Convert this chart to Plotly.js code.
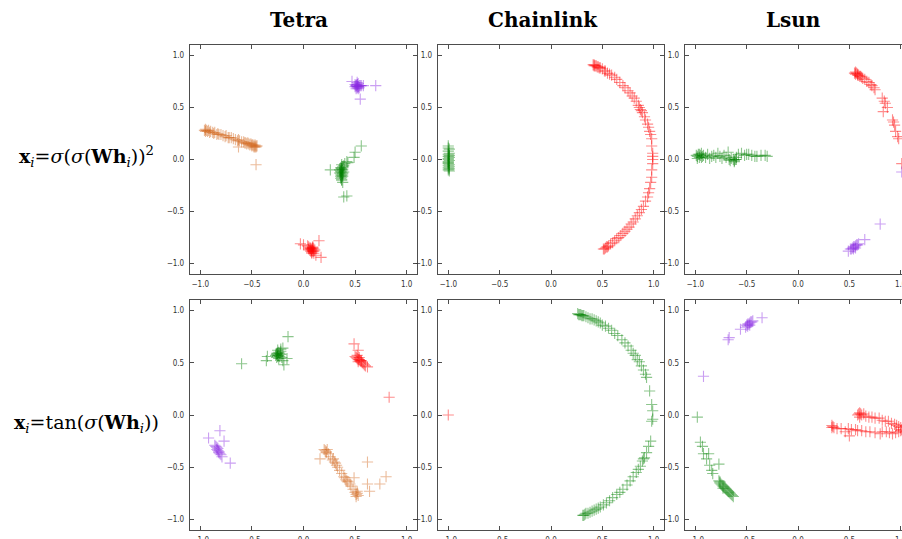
<!DOCTYPE html>
<html>
<head>
<meta charset="utf-8">
<script src="https://cdn.plot.ly/plotly-3.0.1.min.js"></script>
<style>
html,body{margin:0;padding:0;overflow:hidden;background:#fff;width:902px;height:539px;}
#chart{width:912px;height:539px;}
</style>
</head>
<body>
<div id="chart"></div>
<script>
// ---------- column / row labels ----------
const columnTitles = ["Tetra", "Chainlink", "Lsun"];
const rowLabels = [
  "<b>x</b><sub><i>i</i></sub>=<i>σ</i>(<i>σ</i>(<b>Wh</b><sub><i>i</i></sub>))<sup>2</sup>",
  "<b>x</b><sub><i>i</i></sub>=tan(<i>σ</i>(<b>Wh</b><sub><i>i</i></sub>))"
];
const tickValues = [-1.0, -0.5, 0.0, 0.5, 1.0];

// ---------- Panel 1: Tetra, sigma(sigma(Wh))^2 ----------
const p1OrangeX = [-0.96,-0.95,-0.95,-0.94,-0.93,-0.92,-0.91,-0.90,-0.88,-0.87,-0.86,-0.84,-0.83,-0.82,-0.80,-0.78,-0.76,-0.75,-0.73,-0.72,-0.70,-0.68,-0.66,-0.64,-0.63,-0.62,-0.60,-0.58,-0.57,-0.56,-0.55,-0.54,-0.53,-0.52,-0.51,-0.50,-0.50,-0.49,-0.48,-0.48,-0.47,-0.47,-0.46,-0.46,-0.45,-0.46,-0.63];
const p1OrangeY = [0.28,0.29,0.27,0.28,0.27,0.28,0.26,0.27,0.26,0.25,0.26,0.24,0.25,0.24,0.24,0.23,0.22,0.23,0.21,0.21,0.21,0.20,0.19,0.18,0.19,0.18,0.17,0.17,0.16,0.16,0.15,0.16,0.15,0.14,0.15,0.14,0.13,0.14,0.13,0.12,0.14,0.12,0.13,0.12,0.13,-0.05,0.12];
const p1PurpleX = [0.50,0.51,0.52,0.53,0.54,0.52,0.51,0.53,0.50,0.52,0.54,0.53,0.51,0.52,0.55,0.56,0.58,0.47,0.70,0.55,0.52,0.53];
const p1PurpleY = [0.70,0.71,0.72,0.70,0.71,0.69,0.68,0.73,0.72,0.70,0.69,0.68,0.71,0.74,0.71,0.71,0.71,0.75,0.71,0.58,0.72,0.70];
const p1GreenX = [0.40,0.39,0.38,0.37,0.37,0.36,0.36,0.35,0.36,0.37,0.38,0.37,0.36,0.37,0.38,0.37,0.38,0.39,0.36,0.37,0.38,0.35,0.36,0.37,0.26,0.42,0.43,0.49,0.50,0.56,0.39,0.42,0.38,0.37];
const p1GreenY = [-0.04,-0.06,-0.07,-0.09,-0.10,-0.11,-0.12,-0.13,-0.14,-0.15,-0.16,-0.17,-0.18,-0.19,-0.13,-0.08,-0.10,-0.12,-0.16,-0.05,-0.14,-0.10,-0.08,-0.12,-0.10,-0.02,-0.03,0.02,0.07,0.13,-0.36,-0.35,-0.22,-0.20];
const p1RedX = [0.05,0.06,0.07,0.08,0.09,0.10,0.06,0.07,0.08,0.09,0.10,0.07,0.08,0.09,0.11,0.05,0.04,0.08,0.10,-0.03,0.00,0.15,0.12,0.17,0.09];
const p1RedY = [-0.84,-0.85,-0.86,-0.87,-0.85,-0.86,-0.87,-0.88,-0.89,-0.84,-0.88,-0.85,-0.86,-0.88,-0.87,-0.86,-0.83,-0.90,-0.90,-0.81,-0.82,-0.78,-0.92,-0.94,-0.85];

// ---------- Panel 2: Chainlink, sigma(sigma(Wh))^2 ----------
const p2GreenX = [-1.00,-0.99,-1.00,-0.99,-1.00,-1.00,-0.99,-1.00,-0.99,-1.00,-1.00,-0.99,-1.00,-0.99,-1.00,-1.00,-0.99,-1.00,-0.99,-1.00,-1.00,-0.99];
const p2GreenY = [0.13,0.10,0.08,0.06,0.05,0.03,0.02,0.00,-0.01,-0.02,-0.03,-0.05,-0.06,-0.07,-0.08,-0.10,-0.11,0.11,0.04,-0.04,0.01,-0.09];
const p2RedX = [0.41,0.42,0.42,0.43,0.44,0.45,0.46,0.47,0.48,0.50,0.52,0.53,0.55,0.57,0.59,0.62,0.64,0.67,0.70,0.72,0.75,0.77,0.79,0.81,0.83,0.85,0.86,0.87,0.88,0.89,0.91,0.92,0.94,0.95,0.96,0.97,0.98,0.98,0.99,0.99,0.99,0.99,0.98,0.98,0.97,0.96,0.95,0.94,0.92,0.90,0.88,0.86,0.84,0.82,0.80,0.78,0.76,0.74,0.72,0.70,0.68,0.66,0.64,0.62,0.60,0.58,0.56,0.55,0.54,0.53,0.52,0.51];
const p2RedY = [0.91,0.91,0.90,0.90,0.90,0.89,0.89,0.88,0.88,0.87,0.85,0.85,0.83,0.82,0.81,0.79,0.77,0.74,0.71,0.69,0.66,0.64,0.61,0.59,0.56,0.52,0.50,0.48,0.47,0.45,0.41,0.38,0.34,0.31,0.27,0.24,0.20,0.13,0.06,0.03,0.00,-0.04,-0.10,-0.17,-0.22,-0.28,-0.32,-0.36,-0.40,-0.45,-0.48,-0.51,-0.54,-0.57,-0.60,-0.62,-0.65,-0.67,-0.69,-0.71,-0.73,-0.75,-0.76,-0.78,-0.80,-0.81,-0.83,-0.84,-0.84,-0.85,-0.86,-0.86];

// ---------- Panel 3: Lsun, sigma(sigma(Wh))^2 ----------
const p3GreenX = [-0.99,-0.98,-0.97,-0.96,-0.95,-0.94,-0.93,-0.92,-0.90,-0.88,-0.86,-0.84,-0.82,-0.80,-0.78,-0.76,-0.74,-0.72,-0.70,-0.68,-0.67,-0.65,-0.63,-0.62,-0.61,-0.60,-0.60,-0.58,-0.55,-0.52,-0.50,-0.48,-0.45,-0.42,-0.40,-0.36,-0.32,-0.30,-0.98,-0.96,-0.94,-0.66,-0.62];
const p3GreenY = [0.04,0.03,0.05,0.02,0.04,0.06,0.03,0.04,0.02,0.05,0.01,0.03,0.04,0.02,0.06,0.03,0.01,0.04,0.02,0.07,0.00,0.01,0.00,-0.01,0.00,0.02,0.00,0.05,0.06,0.04,0.05,0.05,0.04,0.03,0.03,0.04,0.04,0.03,0.01,0.05,0.02,-0.01,-0.02];
const p3RedX = [0.55,0.56,0.56,0.57,0.58,0.58,0.59,0.60,0.61,0.62,0.63,0.65,0.67,0.69,0.71,0.72,0.74,0.75,0.82,0.84,0.85,0.83,0.87,0.92,0.93,0.94,0.95,0.97,0.98,1.01];
const p3RedY = [0.83,0.84,0.82,0.83,0.82,0.81,0.81,0.80,0.80,0.79,0.78,0.77,0.75,0.74,0.72,0.71,0.69,0.67,0.59,0.56,0.54,0.46,0.50,0.38,0.36,0.33,0.27,0.22,0.20,-0.04];
const p3PurpleX = [0.49,0.51,0.52,0.53,0.54,0.55,0.56,0.57,0.58,0.59,0.54,0.56,0.65,0.80,1.01];
const p3PurpleY = [-0.88,-0.86,-0.86,-0.85,-0.84,-0.84,-0.83,-0.82,-0.82,-0.81,-0.86,-0.85,-0.77,-0.62,-0.12];

// ---------- Panel 4: Tetra, tan(sigma(Wh)) ----------
const p4GreenX = [-0.27,-0.26,-0.25,-0.24,-0.23,-0.22,-0.26,-0.25,-0.24,-0.23,-0.25,-0.24,-0.26,-0.22,-0.21,-0.15,-0.60,-0.35,-0.36,-0.20,-0.19,-0.20,-0.22,-0.16,-0.25];
const p4GreenY = [0.57,0.58,0.59,0.57,0.56,0.58,0.55,0.56,0.60,0.59,0.57,0.54,0.59,0.61,0.55,0.75,0.49,0.56,0.52,0.52,0.48,0.64,0.63,0.54,0.62];
const p4RedX = [0.50,0.51,0.52,0.53,0.54,0.55,0.56,0.57,0.58,0.59,0.52,0.54,0.56,0.53,0.49,0.53,0.62,0.83,0.60];
const p4RedY = [0.56,0.55,0.54,0.53,0.53,0.52,0.51,0.50,0.49,0.48,0.57,0.55,0.52,0.51,0.68,0.62,0.46,0.17,0.47];
const p4PurpleX = [-0.85,-0.84,-0.84,-0.83,-0.83,-0.82,-0.82,-0.81,-0.80,-0.86,-0.92,-0.81,-0.77,-0.71,-0.79];
const p4PurpleY = [-0.30,-0.31,-0.33,-0.32,-0.34,-0.35,-0.36,-0.37,-0.38,-0.29,-0.22,-0.15,-0.25,-0.46,-0.40];
const p4OrangeX = [0.20,0.21,0.22,0.23,0.24,0.26,0.28,0.29,0.30,0.31,0.32,0.33,0.35,0.37,0.39,0.40,0.41,0.42,0.43,0.45,0.46,0.48,0.50,0.51,0.52,0.53,0.51,0.52,0.16,0.62,0.62,0.64,0.74,0.80,0.49,0.22];
const p4OrangeY = [-0.33,-0.34,-0.35,-0.33,-0.37,-0.40,-0.43,-0.42,-0.45,-0.46,-0.48,-0.50,-0.53,-0.56,-0.59,-0.60,-0.62,-0.63,-0.64,-0.66,-0.68,-0.71,-0.74,-0.76,-0.75,-0.77,-0.78,-0.73,-0.42,-0.45,-0.66,-0.73,-0.66,-0.59,-0.60,-0.36];

// ---------- Panel 5: Chainlink, tan(sigma(Wh)) ----------
const p5RedX = [-1.0];
const p5RedY = [0.0];
const p5GreenX = [0.26,0.27,0.28,0.29,0.30,0.31,0.32,0.34,0.36,0.38,0.40,0.42,0.44,0.46,0.48,0.50,0.53,0.56,0.59,0.62,0.65,0.69,0.72,0.75,0.78,0.80,0.82,0.84,0.86,0.88,0.90,0.92,0.93,0.96,0.98,0.99,0.99,0.98,0.97,0.95,0.93,0.91,0.90,0.89,0.87,0.85,0.83,0.80,0.77,0.74,0.70,0.67,0.64,0.60,0.57,0.54,0.51,0.48,0.46,0.44,0.42,0.40,0.38,0.36,0.34,0.33,0.32,0.31];
const p5GreenY = [0.97,0.96,0.96,0.96,0.95,0.95,0.95,0.94,0.93,0.92,0.92,0.91,0.90,0.89,0.88,0.86,0.85,0.83,0.81,0.78,0.76,0.72,0.69,0.66,0.62,0.59,0.57,0.53,0.51,0.47,0.43,0.39,0.36,0.23,0.10,0.04,-0.04,-0.06,-0.25,-0.30,-0.36,-0.41,-0.42,-0.44,-0.49,-0.52,-0.55,-0.59,-0.63,-0.67,-0.71,-0.74,-0.76,-0.79,-0.82,-0.84,-0.86,-0.88,-0.89,-0.90,-0.91,-0.92,-0.93,-0.94,-0.94,-0.95,-0.96,-0.96];

// ---------- Panel 6: Lsun, tan(sigma(Wh)) ----------
const p6PurpleX = [-0.50,-0.49,-0.48,-0.47,-0.46,-0.45,-0.44,-0.49,-0.47,-0.35,-0.56,-0.67,-0.68,-0.92,-0.51];
const p6PurpleY = [0.86,0.87,0.87,0.88,0.89,0.89,0.90,0.85,0.86,0.93,0.82,0.74,0.72,0.37,0.84];
const p6GreenX = [-0.98,-0.95,-0.93,-0.92,-0.89,-0.87,-0.86,-0.84,-0.83,-0.77,-0.77,-0.76,-0.75,-0.74,-0.73,-0.72,-0.71,-0.70,-0.69,-0.68,-0.67,-0.66,-0.65,-0.64,-0.63,-0.76,-0.73];
const p6GreenY = [-0.02,-0.26,-0.30,-0.37,-0.42,-0.37,-0.48,-0.53,-0.56,-0.47,-0.63,-0.64,-0.66,-0.67,-0.68,-0.69,-0.70,-0.71,-0.72,-0.73,-0.74,-0.75,-0.76,-0.77,-0.78,-0.65,-0.70];
const p6RedX = [0.58,0.59,0.60,0.61,0.62,0.64,0.66,0.69,0.72,0.75,0.79,0.82,0.85,0.88,0.91,0.94,0.96,0.98,1.00,1.01,1.00,0.98,0.95,0.92,0.89,0.86,0.82,0.80,0.75,0.70,0.66,0.62,0.58,0.56,0.52,0.49,0.46,0.42,0.38,0.35,0.34,0.33,0.33,0.50,0.60];
const p6RedY = [0.00,0.01,0.02,0.01,0.00,0.01,-0.01,-0.02,-0.02,-0.03,-0.03,-0.05,-0.06,-0.06,-0.08,-0.09,-0.10,-0.11,-0.12,-0.14,-0.15,-0.16,-0.17,-0.18,-0.17,-0.16,-0.16,-0.18,-0.17,-0.16,-0.16,-0.15,-0.15,-0.14,-0.14,-0.13,-0.16,-0.13,-0.13,-0.12,-0.11,-0.12,-0.10,-0.20,-0.02];

// ---------- styling ----------
const COLORS = {
  red: "rgba(255,0,0,0.45)",
  green: "rgba(0,128,0,0.45)",
  purple: "rgba(138,43,226,0.45)",
  orange: "rgba(210,105,30,0.45)"
};
const W = 912, H = 539;
const colPx = [[190, 417], [438, 664], [685, 911]];
const rowPx = [[45, 274], [300, 530]];

const traces = [];
function add(panel, xs, ys, color) {
  const s = panel === 1 ? "" : String(panel);
  traces.push({
    type: "scatter", mode: "markers", x: xs, y: ys,
    xaxis: "x" + s, yaxis: "y" + s, showlegend: false, hoverinfo: "skip",
    marker: { symbol: "cross-thin-open", size: 8, color: COLORS[color],
              line: { width: 1.1, color: COLORS[color] } }
  });
}
add(1, p1OrangeX, p1OrangeY, "orange");
add(1, p1PurpleX, p1PurpleY, "purple");
add(1, p1GreenX, p1GreenY, "green");
add(1, p1RedX, p1RedY, "red");
add(2, p2GreenX, p2GreenY, "green");
add(2, p2RedX, p2RedY, "red");
add(3, p3GreenX, p3GreenY, "green");
add(3, p3RedX, p3RedY, "red");
add(3, p3PurpleX, p3PurpleY, "purple");
add(4, p4GreenX, p4GreenY, "green");
add(4, p4RedX, p4RedY, "red");
add(4, p4PurpleX, p4PurpleY, "purple");
add(4, p4OrangeX, p4OrangeY, "orange");
add(5, p5RedX, p5RedY, "red");
add(5, p5GreenX, p5GreenY, "green");
add(6, p6PurpleX, p6PurpleY, "purple");
add(6, p6GreenX, p6GreenY, "green");
add(6, p6RedX, p6RedY, "red");

const layout = {
  width: W, height: H, autosize: false,
  margin: { l: 0, r: 0, t: 0, b: 0 },
  paper_bgcolor: "#ffffff", plot_bgcolor: "#ffffff",
  showlegend: false,
  annotations: []
};
const axisBase = {
  range: [-1.1, 1.1], showgrid: false, zeroline: false,
  showline: true, mirror: "ticks", linecolor: "#4d4d4d", linewidth: 1.2,
  ticks: "inside", ticklen: 4, tickwidth: 1, tickcolor: "#4d4d4d",
  tickvals: tickValues, tickformat: ".1f",
  tickfont: { family: "DejaVu Sans Condensed, DejaVu Sans, sans-serif", size: 8, color: "#333" },
  fixedrange: true
};
for (let k = 1; k <= 6; k++) {
  const r = Math.floor((k - 1) / 3), c = (k - 1) % 3;
  const s = k === 1 ? "" : String(k);
  layout["xaxis" + s] = Object.assign({}, axisBase, {
    domain: [colPx[c][0] / W, colPx[c][1] / W], anchor: "y" + s, ticklabelstandoff: 2
  });
  layout["yaxis" + s] = Object.assign({}, axisBase, {
    domain: [(H - rowPx[r][1]) / H, (H - rowPx[r][0]) / H], anchor: "x" + s, ticklabelstandoff: 3
  });
}
const titleX = [299, 543, 793];
columnTitles.forEach((t, i) => {
  layout.annotations.push({
    text: "<b>" + t + "</b>", xref: "paper", yref: "paper",
    x: titleX[i] / W, y: (H - 20) / H, xanchor: "center", yanchor: "middle",
    showarrow: false, font: { family: "DejaVu Serif, serif", size: 20, color: "#000" }
  });
});
const rowLabelY = [157, 424];
rowLabels.forEach((t, i) => {
  layout.annotations.push({
    text: t, xref: "paper", yref: "paper",
    x: 86 / W, y: (H - rowLabelY[i]) / H, xanchor: "center", yanchor: "middle",
    showarrow: false, font: { family: "DejaVu Serif, serif", size: 19, color: "#000" }
  });
});

Plotly.newPlot("chart", traces, layout, { staticPlot: true, displayModeBar: false });
</script>
</body>
</html>
